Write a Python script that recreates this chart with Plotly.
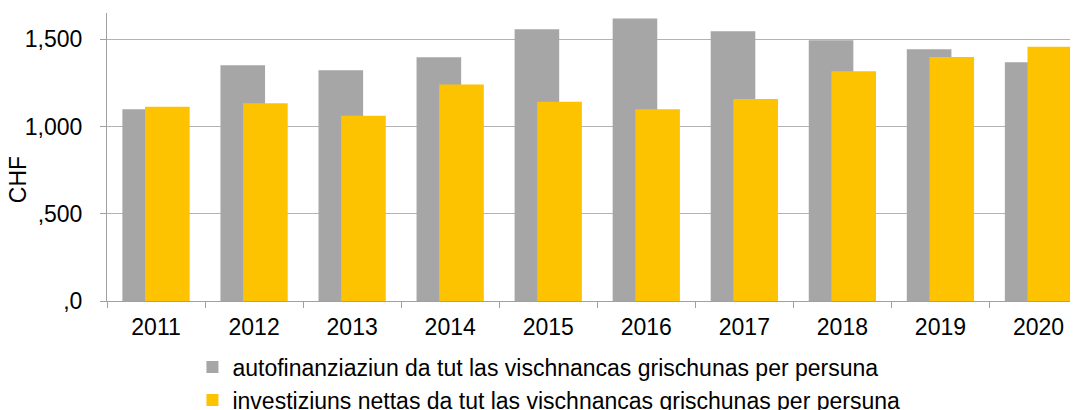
import plotly.graph_objects as go

years = ["2011", "2012", "2013", "2014", "2015", "2016", "2017", "2018", "2019", "2020"]
autofinanziaziun = [1098, 1351, 1322, 1397, 1557, 1618, 1546, 1494, 1442, 1368]
investiziuns = [1113, 1133, 1062, 1240, 1142, 1098, 1157, 1316, 1398, 1456]
y_tickvals = [0, 500, 1000, 1500]
y_ticktext = [",0", ",500", "1,000", "1,500"]
name_auto = "autofinanziaziun da tut las vischnancas grischunas per persuna"
name_inv = "investiziuns nettas da tut las vischnancas grischunas per persuna"

FONT = "Liberation Sans, Arial, sans-serif"
FS = 23

fig = go.Figure()
fig.add_trace(go.Bar(
    x=years, y=autofinanziaziun, name=name_auto,
    marker=dict(color="#A6A6A6", line=dict(width=0)),
    width=0.455, offset=-0.343,
))
fig.add_trace(go.Bar(
    x=years, y=investiziuns, name=name_inv,
    marker=dict(color="#FDC300", line=dict(width=0)),
    width=0.455, offset=-0.112,
))

fig.update_layout(
    width=1070, height=402,
    margin=dict(l=99, r=0, t=5, b=109, pad=0, autoexpand=False),
    barmode="overlay",
    paper_bgcolor="white", plot_bgcolor="white",
    font=dict(family=FONT, size=FS, color="#000000"),
    showlegend=True,
    legend=dict(
        x=0.088, xanchor="left", y=-0.155, yanchor="top",
        orientation="v", font=dict(family=FONT, size=FS, color="#000000"),
        itemwidth=30, tracegroupgap=0, bgcolor="rgba(0,0,0,0)",
        maxheight=300,
    ),
    xaxis=dict(
        type="category", range=[-0.5, 9.403],
        showgrid=False, showline=True, linecolor="#A0A0A0", linewidth=1,
        ticks="outside", tickson="boundaries", ticklen=6, tickcolor="#A0A0A0",
        tickfont=dict(family=FONT, size=FS, color="#000000"),
        ticklabelstandoff=5, automargin=False,
    ),
    yaxis=dict(
        range=[0, 1650], tickvals=y_tickvals, ticktext=y_ticktext,
        showgrid=True, gridcolor="#B3B3B3", gridwidth=1,
        showline=True, linecolor="#A0A0A0", linewidth=1,
        ticks="outside", ticklen=6, tickcolor="#A0A0A0",
        tickfont=dict(family=FONT, size=FS, color="#000000"),
        ticklabelstandoff=13, automargin=False,
        zeroline=False,
    ),
    annotations=[dict(
        text="CHF", xref="paper", yref="paper", x=-0.0915, y=0.42,
        xanchor="center", yanchor="middle", textangle=-90, showarrow=False,
        font=dict(family=FONT, size=FS, color="#000000"),
    )],
)

fig.write_html("out.html")
